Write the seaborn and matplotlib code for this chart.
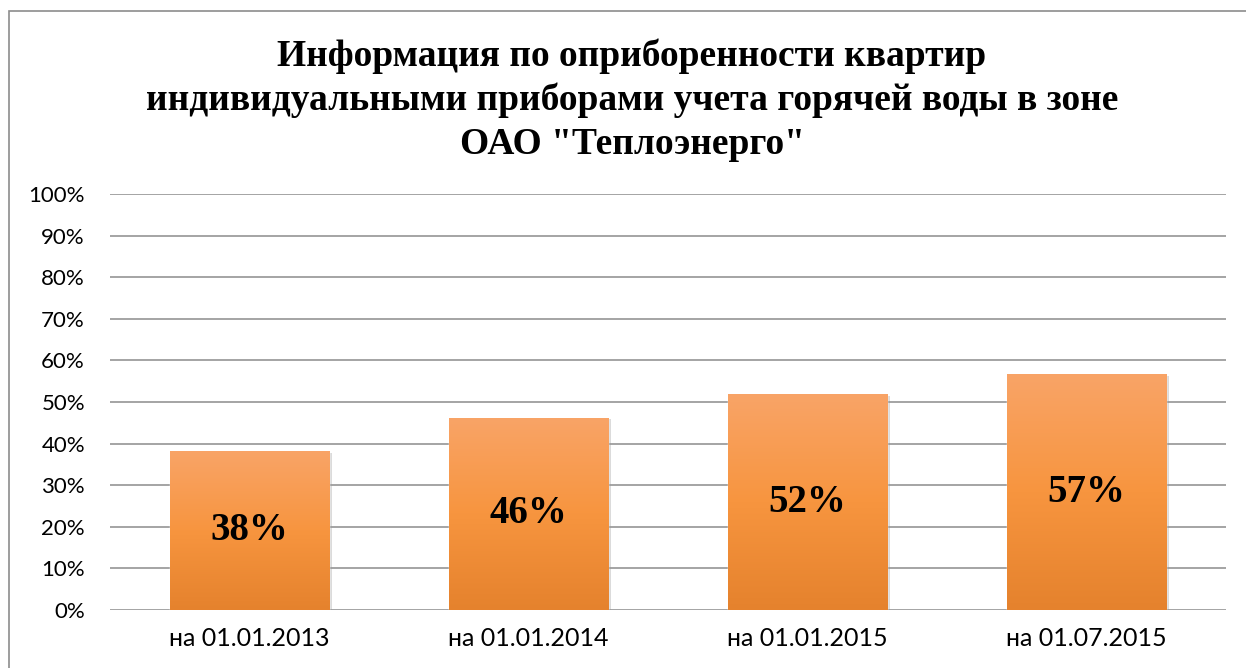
import numpy as np
import pandas as pd
import matplotlib
matplotlib.use("Agg")
import matplotlib.pyplot as plt
import seaborn as sns
from matplotlib.colors import LinearSegmentedColormap
from matplotlib.patches import Rectangle

# данные с диаграммы
dates = ['на 01.01.2013', 'на 01.01.2014', 'на 01.01.2015', 'на 01.07.2015']
shares = [0.382, 0.462, 0.519, 0.567]
value_labels = ['38%', '46%', '52%', '57%']
title = ('Информация по оприборенности квартир\n'
         'индивидуальными приборами учета горячей воды в зоне\n'
         'ОАО "Теплоэнерго"')

df = pd.DataFrame({'date': dates, 'share': shares})

sns.set_style('white')
plt.rcParams['font.family'] = ['Lato', 'DejaVu Sans']

fig = plt.figure(figsize=(12.46, 6.68), dpi=100)
ax = fig.add_axes([110 / 1246, 58 / 668, 1116 / 1246, 416 / 668])

sns.barplot(data=df, x='date', y='share', color='#F79646', width=0.573,
            ax=ax, zorder=2)

# градиентная заливка столбцов
grad = LinearSegmentedColormap.from_list('bar', ['#E5822D', '#F7953F', '#F9A467'])
g = np.linspace(0, 1, 256).reshape(-1, 1)
for p in ax.patches:
    x0, y0 = p.get_x(), p.get_y()
    w, h = p.get_width(), p.get_height()
    # лёгкая тень
    ax.add_patch(Rectangle((x0 + 0.008, y0 - 0.004), w, h, facecolor='#999999',
                           alpha=0.35, edgecolor='none', zorder=1.5))
    im = ax.imshow(g, cmap=grad, origin='lower', aspect='auto',
                   extent=(x0, x0 + w, y0, y0 + h), zorder=2.5)
    im.set_clip_path(p)

for i, lab in enumerate(value_labels):
    ax.text(i, shares[i] / 2, lab, ha='center', va='center', fontsize=28,
            fontweight='bold', family=['Liberation Serif'], color='black',
            zorder=4)

ax.set_xlim(-0.5, 3.5)
ax.set_ylim(0, 1.0)
ax.set_yticks(np.arange(0, 1.01, 0.1))
ax.set_yticklabels([f'{int(round(v * 100))}%' for v in np.arange(0, 1.01, 0.1)],
                   fontsize=16, color='black')
ax.tick_params(axis='x', labelsize=18, labelcolor='black', pad=12)
ax.tick_params(axis='y', pad=18)
ax.tick_params(length=0)
ax.set_xlabel('')
ax.set_ylabel('')
ax.yaxis.grid(True, color='#8c8c8c', linewidth=1.1, zorder=0)
ax.set_axisbelow(True)
for s in ax.spines.values():
    s.set_visible(False)

fig.text(632 / 1246, 1 - 100 / 668, title, ha='center', va='center',
         fontsize=27, fontweight='bold', family=['Liberation Serif'],
         color='black', linespacing=1.32)

fig.patches.append(Rectangle((9 / 1246, -0.05), 1.2, 1 - 11 / 668 + 0.05,
                             transform=fig.transFigure, fill=False,
                             edgecolor='#8c8c8c', linewidth=1.2))

fig.savefig('out.png', dpi=100)
